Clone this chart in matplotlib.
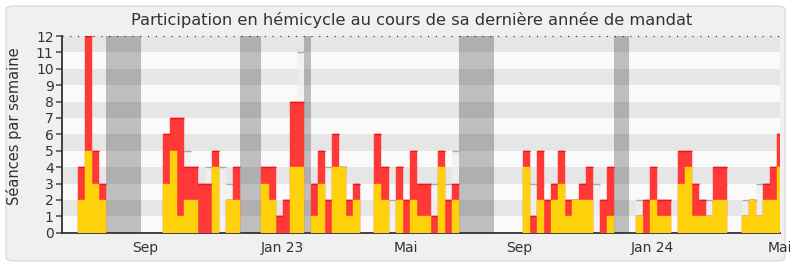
"""Participation hebdomadaire en hémicycle sur la dernière année de mandat."""

import numpy as np
import matplotlib.pyplot as plt
from matplotlib.patches import FancyBboxPatch

# Weekly counts, one value per week (index 0 = first week shown)
total_seances = [4, 12, 5, 3, 0, 0, 0, 0, 0, 0, 0, 0, 6, 7, 7, 4, 4, 3, 3, 5,
                 0, 2, 4, 0, 0, 0, 4, 4, 1, 2, 8, 8, 0, 3, 5, 2, 6, 4, 2, 3,
                 0, 0, 6, 4, 0, 4, 2, 5, 3, 3, 1, 5, 2, 3, 0, 0, 0, 0, 0, 0,
                 0, 0, 0, 5, 1, 5, 2, 3, 5, 2, 2, 3, 4, 0, 2, 4, 0, 0, 0, 1,
                 2, 4, 2, 2, 0, 5, 5, 3, 2, 1, 4, 4, 0, 0, 1, 2, 1, 3, 4, 6]
seances_vote = [2, 5, 3, 2, 0, 0, 0, 0, 0, 0, 0, 0, 3, 5, 1, 2, 2, 0, 0, 4,
                0, 2, 2, 0, 0, 0, 3, 2, 0, 0, 4, 4, 0, 1, 3, 0, 4, 4, 1, 2,
                0, 0, 3, 2, 0, 2, 0, 2, 1, 1, 0, 4, 0, 2, 0, 0, 0, 0, 0, 0,
                0, 0, 0, 4, 0, 2, 0, 2, 3, 1, 2, 2, 2, 0, 0, 1, 0, 0, 0, 1,
                0, 2, 1, 1, 0, 3, 4, 1, 1, 1, 2, 2, 0, 0, 1, 2, 1, 2, 2, 4]
mediane_deputes = [2, 4, 3, 2, 0, 0, 0, 0, 0, 0, 0, 0, 4, 5, 5, 5, 4, 3, 4, 4,
                   4, 3, 3, 0, 0, 0, 3, 3, 1, 2, 8, 11, 0, 3, 4, 4, 4, 4, 2, 3,
                   0, 0, 4, 3, 2, 3, 2, 3, 3, 3, 3, 4, 3, 5, 0, 0, 0, 0, 0, 0,
                   0, 0, 0, 4, 3, 3, 2, 3, 3, 2, 2, 3, 3, 3, 2, 3, 0, 0, 0, 2,
                   2, 3, 2, 2, 0, 4, 4, 3, 2, 2, 3, 3, 0, 0, 2, 2, 3, 3, 3, 4]

# Parliamentary recesses (start week, end week)
vacances = [(4, 9), (23, 26), (32, 33), (54, 59), (76, 78)]

tick_pos = [9.5, 29.0, 46.5, 62.5, 81.3, 99.45]
tick_labels = ['Sep', 'Jan 23', 'Mai', 'Sep', 'Jan 24', 'Mai']

weeks = np.arange(len(total_seances))
total = np.array(total_seances)
vote = np.array(seances_vote)
med = np.array(mediane_deputes)

fig = plt.figure(figsize=(7.9, 2.67), dpi=100)
fig.patch.set_facecolor('white')
frame = FancyBboxPatch((6 / 790, 6 / 267), 779 / 790, 255 / 267,
                       boxstyle='round,pad=0,rounding_size=0.012',
                       transform=fig.transFigure, facecolor='#f0f0f0',
                       edgecolor='#dcdcdc', linewidth=1, zorder=-10)
fig.patches.append(frame)

ax = fig.add_axes([62 / 790, 34.3 / 267, 718 / 790, 196.7 / 267])
ax.set_facecolor('#fafafa')

# Alternating horizontal stripes
for y in range(1, 12, 2):
    ax.axhspan(y, y + 1, color='#e6e6e6', linewidth=0, zorder=0)

for start, end in vacances:
    ax.axvspan(start, end, color='black', alpha=0.24, linewidth=0, zorder=1)

# Median of all deputies, drawn behind
has_med = med > 0
ax.bar(weeks[has_med], med[has_med], width=1, align='edge', color='#f0f0f0',
       alpha=0.7, linewidth=0, zorder=2)
ax.hlines(med[has_med], weeks[has_med], weeks[has_med] + 1,
          color='#aaaaaa', linewidth=1, zorder=2)

has_tot = total > 0
ax.bar(weeks[has_tot], total[has_tot], width=1, align='edge', color='#ff3838',
       edgecolor='#ff3838', linewidth=0.3, zorder=3)
ax.hlines(total[has_tot], weeks[has_tot], weeks[has_tot] + 1,
          color='#ee1515', linewidth=1, zorder=3)
has_vote = vote > 0
ax.bar(weeks[has_vote], vote[has_vote], width=1, align='edge', color='#ffd10a',
       edgecolor='#ffd10a', linewidth=0.3, zorder=4)

ax.axhline(12, color='#222222', linewidth=0.8, linestyle=(0, (1, 6)),
           zorder=5, clip_on=False)

ax.set_xlim(-2.25, 99.45)
ax.set_ylim(0, 12)
ax.set_yticks(range(13))
ax.set_xticks(tick_pos)
ax.set_xticklabels(tick_labels)
ax.tick_params(axis='x', length=0, pad=6, labelsize=10, labelcolor='#333333')
ax.tick_params(axis='y', length=4, width=1.2, color='#555555', pad=2,
               labelsize=10, labelcolor='#333333')

for side in ('top', 'right'):
    ax.spines[side].set_visible(False)
ax.spines['left'].set_color('#333333')
ax.spines['left'].set_linewidth(1.3)
ax.spines['bottom'].set_color('#333333')
ax.spines['bottom'].set_linewidth(1.3)

ax.set_ylabel('Séances par semaine', fontsize=10.5, color='#333333')
ax.yaxis.set_label_coords(-40 / 718, 0.54)
fig.text(412 / 790, 1 - 20 / 267,
         'Participation en hémicycle au cours de sa dernière année de mandat',
         ha='center', va='center', fontsize=11.7, color='#333333')

fig.savefig('out.png', dpi=100, facecolor=fig.get_facecolor())
